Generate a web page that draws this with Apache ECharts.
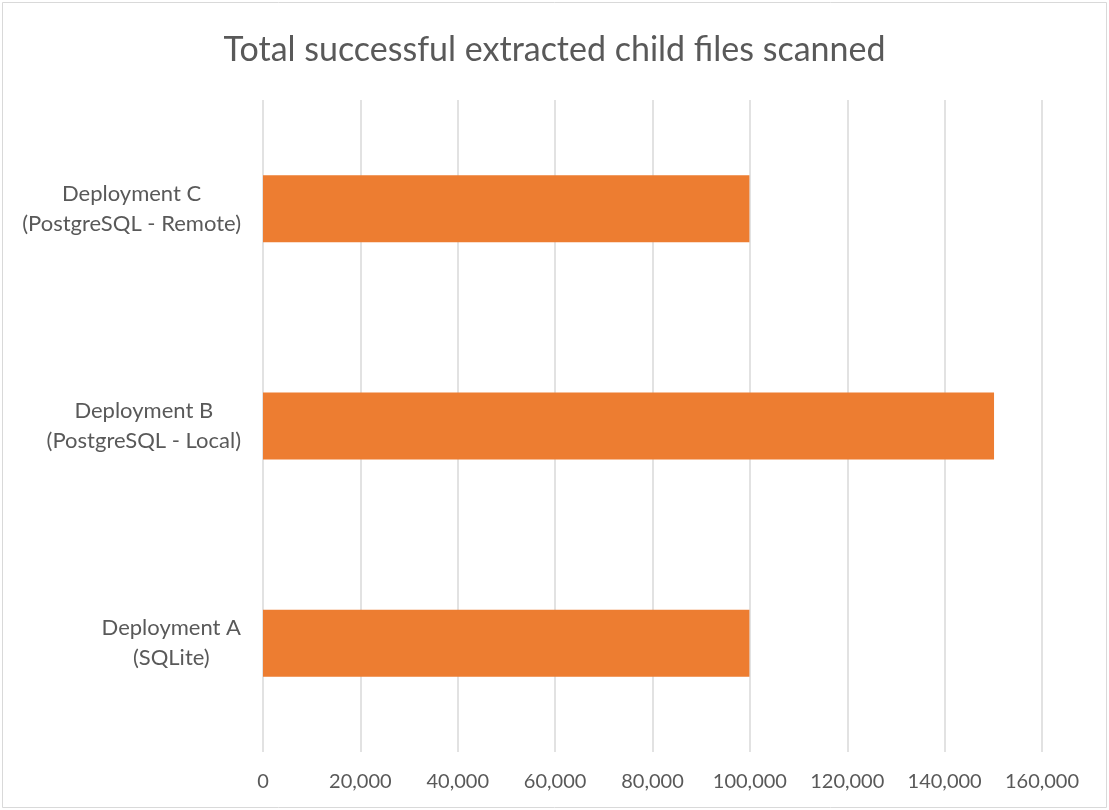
<!DOCTYPE html>
<html>
<head>
<meta charset="utf-8">
<script src="https://cdn.jsdelivr.net/npm/echarts@6/dist/echarts.min.js"></script>
<style>
html,body{margin:0;padding:0;background:#fff;}
#chart{width:1109px;height:810px;}
</style>
</head>
<body>
<div id="chart"></div>
<script>
// Data (bottom to top, as drawn on the category axis)
var categoryNames = ['Deployment A', 'Deployment B', 'Deployment C'];
var categoryDetails = ['(SQLite)', '(PostgreSQL - Local)', '(PostgreSQL - Remote)'];
var filesScanned = [99900, 150150, 99900];
var xTickMax = 160000;
var xTickStep = 20000;

var FONT = 'Lato';
var TEXT = '#595959';

var categories = categoryNames.map(function (n, i) { return n + '\n' + categoryDetails[i]; });

var chart = echarts.init(document.getElementById('chart'), null, { renderer: 'canvas' });
chart.setOption({
  backgroundColor: '#ffffff',
  animation: false,
  title: {
    text: 'Total successful extracted child files scanned',
    left: 'center',
    top: 28,
    textStyle: { fontFamily: FONT, fontSize: 34, fontWeight: 'normal', color: TEXT }
  },
  graphic: [{
    type: 'rect',
    shape: { x: 2.5, y: 2.5, width: 1104, height: 805 },
    style: { fill: 'none', stroke: '#D9D9D9', lineWidth: 1 },
    silent: true,
    z: -1
  }],
  grid: { left: 263, right: 67, top: 100, bottom: 58, containLabel: false },
  xAxis: {
    type: 'value',
    min: 0,
    max: xTickMax,
    interval: xTickStep,
    axisLine: { show: false },
    axisTick: { show: false },
    splitLine: { show: true, lineStyle: { color: '#D9D9D9', width: 1.5 } },
    axisLabel: {
      margin: 20,
      fontFamily: FONT, fontSize: 20, color: TEXT,
      formatter: function (v) { return v.toLocaleString('en-US'); }
    }
  },
  yAxis: {
    type: 'category',
    data: categories,
    axisLine: { show: false },
    axisTick: { show: false },
    splitLine: { show: false },
    axisLabel: {
      margin: 22,
      align: 'right',
      formatter: function (v) {
        var parts = v.split('\n');
        return '{a|' + parts[0] + '}\n{a|' + parts[1] + '}';
      },
      rich: {
        a: { fontFamily: FONT, fontSize: 22, color: TEXT, lineHeight: 30, align: 'center' }
      }
    }
  },
  series: [{
    type: 'bar',
    data: filesScanned,
    barWidth: 67,
    itemStyle: { color: '#ED7D31' },
    silent: true
  }]
});
</script>
</body>
</html>
